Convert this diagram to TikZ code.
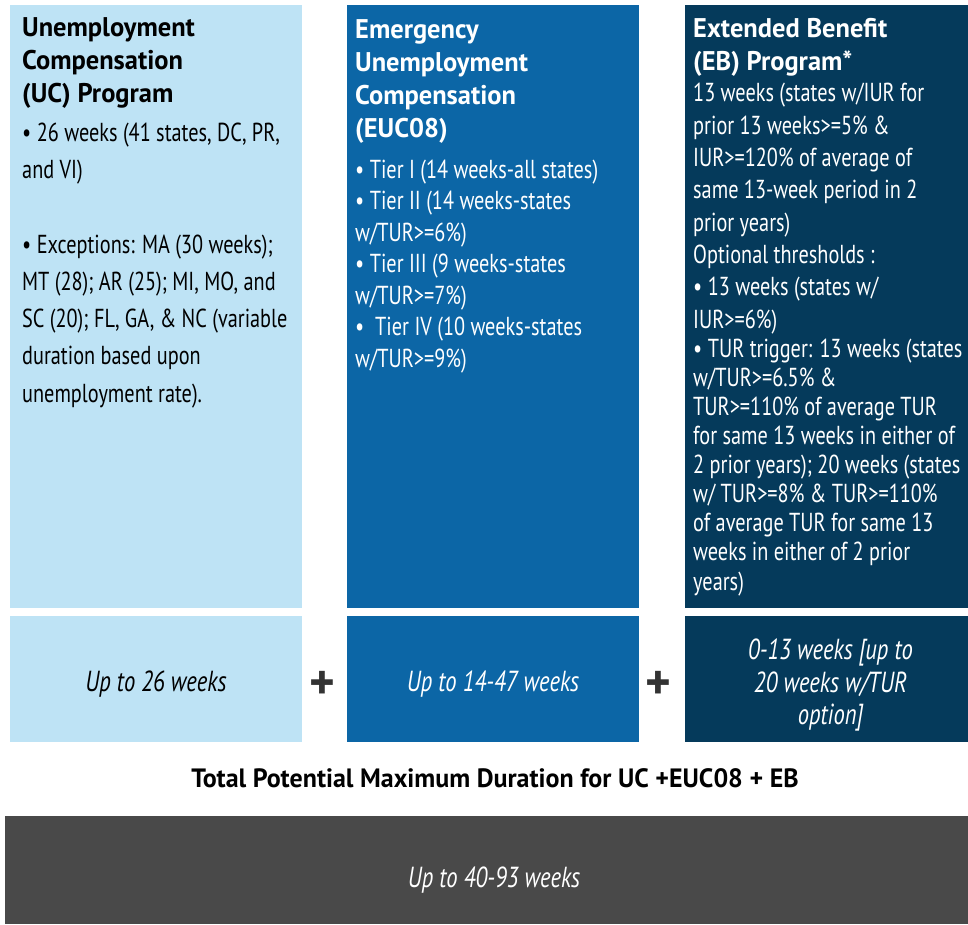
\documentclass[tikz,border=0pt]{standalone}
\usepackage{fontspec}
\setmainfont{PT Sans}[FakeStretch=0.78]
\newfontfamily\headfont{PT Sans}[FakeStretch=0.98]
\usepackage{tikz}
\definecolor{ucblue}{HTML}{BEE3F5}
\definecolor{eucblue}{HTML}{0C66A6}
\definecolor{ebnavy}{HTML}{053A5B}
\definecolor{totgrey}{HTML}{494949}
\definecolor{plusgrey}{HTML}{333333}
\tikzset{
  panel/.style={rectangle,inner sep=0pt,minimum width=#1},
  tallbox/.style={panel=292pt,minimum height=603pt},
  lowbox/.style={panel=292pt,minimum height=126pt},
  headtext/.style={anchor=base west,inner sep=0pt,align=left,
    font=\headfont\fontsize{27}{32.7}\selectfont\bfseries},
  bodytext/.style={anchor=base west,inner sep=0pt,align=left,
    font=\fontsize{26}{#1}\selectfont},
  sumtext/.style={align=center,font=\fontsize{29}{32.5}\selectfont\itshape},
  plussign/.style={font=\headfont\fontsize{50}{50}\selectfont\bfseries,text=plusgrey}
}

\begin{document}
\begin{tikzpicture}[x=1pt,y=-1pt]
    \useasboundingbox (0,0) rectangle (968,924);
    % top boxes
    \node[tallbox,fill=ucblue] (uc) at (156,306.5) {};
    \node[tallbox,fill=eucblue] (euc) at (493,306.5) {};
    \node[tallbox,fill=ebnavy,minimum width=283pt] (eb) at (826.5,306.5) {};
    % lower boxes
    \node[lowbox,fill=ucblue] (ucw) at (156,679) {};
    \node[lowbox,fill=eucblue] (eucw) at (493,679) {};
    \node[lowbox,fill=ebnavy,minimum width=283pt] (ebw) at (826.5,679) {};
    \node[panel=963pt,minimum height=108pt,fill=totgrey] (tot) at (486.5,870) {};

    % UC (base = last line)
    \node[headtext] (uchead) at (22,102) {Unemployment\\Compensation\\(UC) Program};
    \node[bodytext=37.2] (ucbody) at (22,402) {• 26 weeks (41 states, DC, PR,\\
      and VI)\\[37.2pt]
      • Exceptions: MA (30 weeks);\\
      MT (28); AR (25); MI, MO, and\\
      SC (20); FL, GA, \& NC (variable\\
      duration based upon\\
      unemployment rate).};
    % EUC08
    \node[headtext,text=white] (euchead) at (355,137) {Emergency\\Unemployment\\Compensation\\(EUC08)};
    \node[bodytext=31.5,text=white] (eucbody) at (355,367) {• Tier I (14 weeks-all states)\\
      • Tier II (14 weeks-states\\
      w/TUR>=6\%)\\
      • Tier III (9 weeks-states\\
      w/TUR>=7\%)\\
      •\ \ Tier IV (10 weeks-states\\
      w/TUR>=9\%)};
    % EB
    \node[headtext,text=white] (ebhead) at (693,70) {Extended Benefit\\(EB) Program*};
    \node[bodytext=32.3,text=white] (ebbody) at (693,328) {13 weeks (states w/IUR for\\
      prior 13 weeks>=5\% \&\\
      IUR>=120\% of average of\\
      same 13-week period in 2\\
      prior years)\\
      Optional thresholds :\\
      • 13 weeks (states w/\\
      IUR>=6\%)};
    \node[bodytext=29.1,text=white] (ebtur) at (693,590) {• TUR trigger: 13 weeks (states\\
      w/TUR>=6.5\% \&\\
      TUR>=110\% of average TUR\\
      for same 13 weeks in either of\\
      2 prior years); 20 weeks (states\\
      w/ TUR>=8\% \& TUR>=110\%\\
      of average TUR for same 13\\
      weeks in either of 2 prior\\
      years)};

    % durations
    \node[sumtext] (ucwk) at ([yshift=-5pt]ucw) {Up to 26 weeks};
    \node[sumtext,text=white] (eucwk) at ([yshift=-5pt]eucw) {Up to 14-47 weeks};
    \node[sumtext,text=white] (ebwk) at ([xshift=4pt,yshift=-6pt]ebw) {0-13 weeks [up to\\20 weeks w/TUR\\option]};
    \node[plussign] (plusa) at (322,685) {+};
    \node[plussign] (plusb) at (658,685) {+};

    \node[font=\headfont\fontsize{26.5}{30}\selectfont\bfseries] (ttl) at (495,778) {Total Potential Maximum Duration for UC +EUC08 + EB};
    \node[sumtext,text=white] (totwk) at (494,880) {Up to 40-93 weeks};
\end{tikzpicture}
\end{document}
